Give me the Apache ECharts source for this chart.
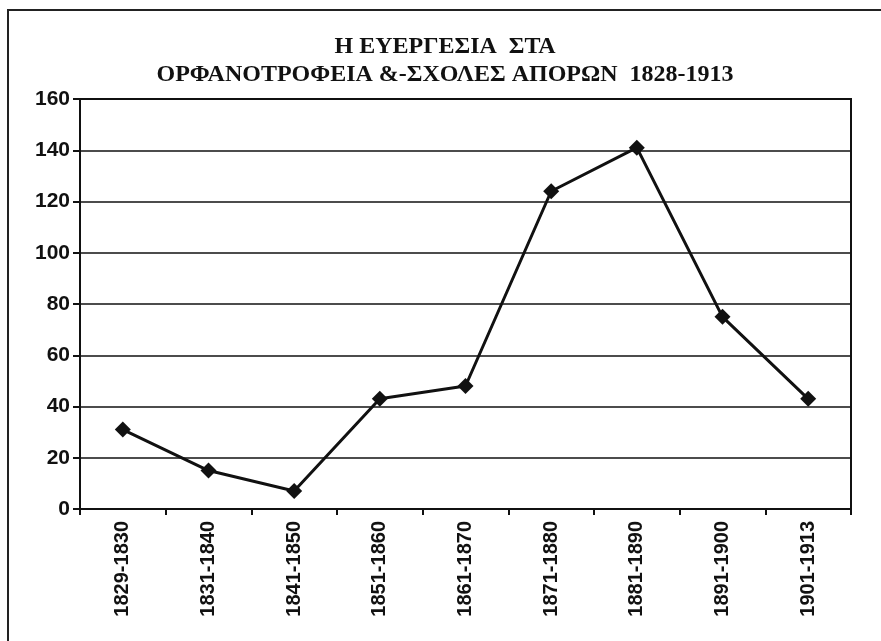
<!DOCTYPE html>
<html lang="el">
<head>
  <meta charset="UTF-8">
  <title>Η ευεργεσία στα ορφανοτροφεία</title>
  <script src="https://cdn.jsdelivr.net/npm/echarts@6/dist/echarts.min.js"></script>
  <style>
    html, body, #main {
      margin: 0;
      padding: 0;
      width: 881px;
      height: 641px;
      background: #fff;
    }
  </style>
</head>
<body>
  <div id="main"></div>

  <script>
    const periods = ["1829-1830", "1831-1840", "1841-1850", "1851-1860", "1861-1870",
                     "1871-1880", "1881-1890", "1891-1900", "1901-1913"];
    const values = [31, 15, 7, 43, 48, 124, 141, 75, 43];
    const titleLines = ["Η ΕΥΕΡΓΕΣΙΑ  ΣΤΑ", "ΟΡΦΑΝΟΤΡΟΦΕΙΑ &-ΣΧΟΛΕΣ ΑΠΟΡΩΝ  1828-1913"];

    const chart = echarts.init(document.getElementById('main'));
    const option = {
      backgroundColor: '#fff',
      animation: false,
      title: {
        text: titleLines.join('\n'),
        left: 440,
        textAlign: 'center',
        top: 28,
        textStyle: {
          fontFamily: 'Liberation Serif',
          fontWeight: 'bold',
          fontSize: 24,
          lineHeight: 28,
          color: '#111'
        }
      },
      graphic: [{
        type: 'rect',
        shape: { x: 8, y: 10, width: 900, height: 660 },
        style: { fill: 'none', stroke: '#222', lineWidth: 2 },
        silent: true
      }],
      grid: {
        left: 80,
        right: 30,
        top: 99,
        bottom: 132,
        show: true,
        borderColor: '#111',
        borderWidth: 2
      },
      xAxis: {
        type: 'category',
        data: periods,
        boundaryGap: true,
        axisLine: { lineStyle: { color: '#111', width: 2 } },
        axisTick: { show: true, alignWithLabel: false, length: 6, lineStyle: { color: '#111', width: 2 } },
        axisLabel: {
          rotate: 90,
          margin: 12,
          fontFamily: 'Liberation Sans',
          fontWeight: 'bold',
          fontSize: 20,
          color: '#111'
        }
      },
      yAxis: {
        type: 'value',
        min: 0,
        max: 160,
        interval: 20,
        axisLine: { show: true, lineStyle: { color: '#111', width: 2 } },
        axisTick: { show: true, length: 7, lineStyle: { color: '#111', width: 2 } },
        splitLine: { lineStyle: { color: '#111', width: 1.5 } },
        axisLabel: {
          margin: 10,
          fontFamily: 'Liberation Sans',
          fontWeight: 'bold',
          fontSize: 21,
          color: '#111'
        }
      },
      series: [{
        type: 'line',
        data: values,
        symbol: 'diamond',
        symbolSize: 16,
        lineStyle: { color: '#111', width: 3 },
        itemStyle: { color: '#111' }
      }]
    };

    chart.setOption(option);
  </script>
</body>
</html>
